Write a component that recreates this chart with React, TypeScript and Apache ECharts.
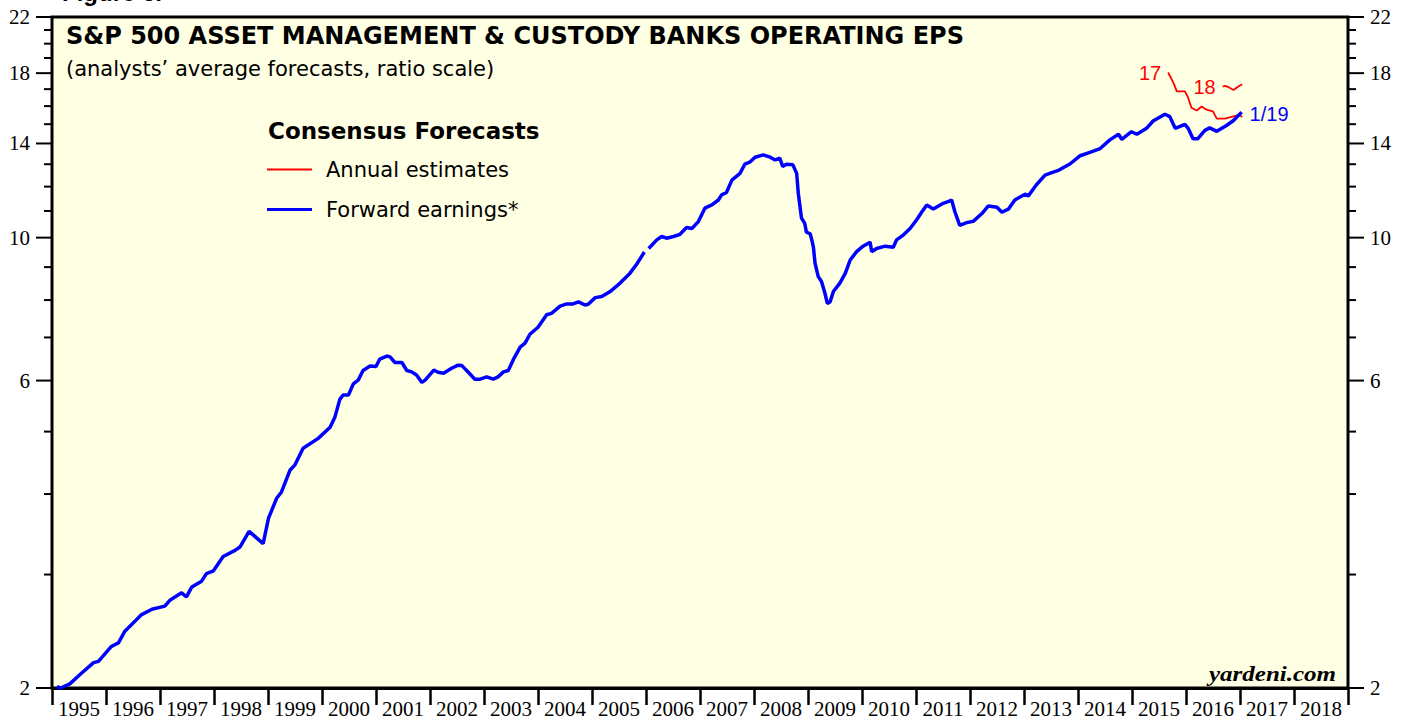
import React, { useEffect, useRef } from 'react';
import * as echarts from 'echarts';

// ---- Data ----
const yearLabels = ['1995','1996','1997','1998','1999','2000','2001','2002','2003','2004','2005','2006','2007','2008','2009','2010','2011','2012','2013','2014','2015','2016','2017','2018'];
const yTickValues = [2,3,4,5,6,7,8,9,10,11,12,13,14,15,16,17,18,19,20,21,22];
const yLabelValues = [2,6,10,14,18,22];

// Forward earnings (decimal year, EPS); null marks the break in early 2006
const fwdYears = [1995.09,1995.16,1995.33,1995.55,1995.77,1995.86,1996.1,1996.23,1996.35,1996.66,1996.85,1997.09,1997.19,1997.4,1997.49,1997.59,1997.77,1997.86,1997.99,1998.17,1998.39,1998.48,1998.65,1998.91,1999.01,1999.16,1999.25,1999.41,1999.5,1999.65,1999.93,2000.15,2000.24,2000.33,2000.39,2000.49,2000.58,2000.67,2000.76,2000.89,2001.0,2001.07,2001.2,2001.26,2001.35,2001.48,2001.57,2001.66,2001.75,2001.85,2001.91,2002.07,2002.15,2002.25,2002.4,2002.52,2002.59,2002.71,2002.83,2002.93,2003.05,2003.17,2003.26,2003.36,2003.45,2003.54,2003.67,2003.76,2003.85,2004.0,2004.16,2004.25,2004.41,2004.53,2004.65,2004.75,2004.87,2004.93,2005.06,2005.18,2005.33,2005.52,2005.7,2005.83,2005.97,2006.01,2006.05,2006.2,2006.29,2006.38,2006.51,2006.63,2006.75,2006.85,2006.97,2007.09,2007.22,2007.34,2007.4,2007.49,2007.59,2007.68,2007.74,2007.83,2007.93,2008.02,2008.17,2008.3,2008.39,2008.48,2008.53,2008.6,2008.72,2008.79,2008.82,2008.88,2008.94,2008.97,2009.04,2009.07,2009.1,2009.13,2009.19,2009.25,2009.31,2009.36,2009.41,2009.47,2009.59,2009.69,2009.78,2009.9,2010.02,2010.15,2010.18,2010.27,2010.43,2010.58,2010.64,2010.77,2010.89,2011.01,2011.11,2011.2,2011.32,2011.48,2011.63,2011.66,2011.72,2011.81,2011.94,2012.06,2012.22,2012.34,2012.5,2012.59,2012.71,2012.83,2013.02,2013.08,2013.23,2013.39,2013.54,2013.64,2013.85,2014.04,2014.22,2014.41,2014.59,2014.75,2014.81,2014.99,2015.09,2015.27,2015.39,2015.61,2015.7,2015.8,2015.98,2016.04,2016.13,2016.22,2016.35,2016.44,2016.57,2016.75,2016.88,2017.03];
const fwdEps = [2.01,2.0,2.03,2.11,2.19,2.2,2.32,2.35,2.45,2.6,2.65,2.68,2.74,2.81,2.77,2.87,2.93,3.01,3.04,3.2,3.27,3.31,3.5,3.35,3.67,3.94,4.03,4.36,4.44,4.71,4.88,5.08,5.27,5.61,5.7,5.7,5.93,6.01,6.22,6.32,6.31,6.48,6.55,6.53,6.4,6.4,6.22,6.19,6.12,5.96,6.01,6.23,6.18,6.16,6.27,6.34,6.33,6.18,6.03,6.03,6.08,6.03,6.08,6.19,6.22,6.46,6.76,6.86,7.08,7.26,7.59,7.63,7.83,7.89,7.89,7.95,7.86,7.88,8.07,8.1,8.24,8.5,8.8,9.1,9.5,null,9.62,9.92,10.04,9.98,10.04,10.12,10.37,10.33,10.59,11.11,11.24,11.44,11.65,11.75,12.28,12.46,12.58,13.0,13.11,13.33,13.44,13.33,13.2,13.28,12.9,13.0,12.97,12.58,11.72,10.72,10.52,10.2,10.14,9.92,9.67,9.13,8.7,8.55,8.22,7.9,7.95,8.25,8.5,8.8,9.23,9.51,9.7,9.84,9.51,9.62,9.7,9.66,9.92,10.1,10.33,10.65,10.97,11.24,11.08,11.28,11.4,11.44,10.97,10.45,10.55,10.6,10.9,11.2,11.15,10.95,11.07,11.44,11.68,11.61,12.08,12.5,12.64,12.72,13.01,13.4,13.56,13.75,14.18,14.47,14.21,14.6,14.47,14.78,15.17,15.54,15.41,14.78,14.99,14.78,14.24,14.24,14.67,14.8,14.62,14.93,15.2,15.66];

// Annual estimates for 2017 and 2018
const est17Years = [2015.67,2015.77,2015.83,2015.98,2016.04,2016.1,2016.2,2016.29,2016.38,2016.5,2016.57,2016.72,2016.88,2016.99,2017.04];
const est17Eps = [18.04,17.37,16.87,16.87,16.49,15.91,15.75,15.98,15.8,15.7,15.3,15.3,15.43,15.5,15.38];
const est18Years = [2016.68,2016.72,2016.79,2016.88,2016.97,2017.04];
const est18Eps = [17.16,17.2,17.12,16.95,17.16,17.3];

const pairs = (xs: number[], ys: (number | null)[]) => xs.map((x, i) => [x, ys[i] === null ? '-' : ys[i]]);

const SERIF = '"Liberation Serif", "Times New Roman", serif';
const SANS = '"DejaVu Sans", sans-serif';
const ARIAL = '"Liberation Sans", Arial, sans-serif';

export default function App() {
  const ref = useRef<HTMLDivElement>(null);
  useEffect(() => {
    if (!ref.current) return;
    const chart = echarts.init(ref.current, null, { renderer: 'svg' });
    const fwd = pairs(fwdYears, fwdEps);
    const e17 = pairs(est17Years, est17Eps);
    const e18 = pairs(est18Years, est18Eps);
    const lastFwd = fwd[fwd.length - 1];

    const option: any = {
      animation: false,
      backgroundColor: '#ffffff',
      title: {
        text: 'S&P 500 ASSET MANAGEMENT & CUSTODY BANKS OPERATING EPS',
        subtext: '(analysts\u2019 average forecasts, ratio scale)',
        left: 66,
        top: 24,
        padding: 0,
        itemGap: 10,
        textStyle: { fontFamily: SANS, fontWeight: 'bold', fontSize: 24, color: '#000' },
        subtextStyle: { fontFamily: SANS, fontSize: 21, color: '#000' },
      },
      legend: {
        orient: 'vertical',
        left: 267,
        top: 159,
        itemWidth: 45,
        itemHeight: 3,
        itemGap: 19,
        padding: 0,
        selectedMode: false,
        textStyle: { fontFamily: SANS, fontSize: 21, color: '#000', padding: [0, 0, 0, 9] },
        data: [
          { name: 'Annual estimates', icon: 'path://M0 0H45V2H0Z' },
          { name: 'Forward earnings*', icon: 'rect' },
        ],
      },
      grid: {
        left: 52,
        top: 17,
        right: 59,
        bottom: 31,
        show: true,
        backgroundColor: '#ffffe4',
        borderColor: '#000',
        borderWidth: 3,
        containLabel: false,
      },
      xAxis: [
        { type: 'value', min: 1995, max: 2019, show: false },
        {
          type: 'category',
          data: yearLabels,
          boundaryGap: true,
          position: 'bottom',
          axisLine: { show: true, lineStyle: { color: '#000', width: 3 } },
          axisTick: { show: true, interval: 0, length: 17, lineStyle: { color: '#000', width: 2.5 } },
          axisLabel: { interval: 0, fontFamily: SERIF, fontSize: 21, color: '#000', margin: 10 },
          splitLine: { show: false },
        },
      ],
      yAxis: {
        type: 'log',
        logBase: 10,
        min: 2,
        max: 22,
        axisLine: { show: false },
        axisTick: { show: false },
        axisLabel: { show: false },
        splitLine: { show: false },
      },
      graphic: [
        {
          type: 'text', left: 268, top: 119,
          style: { text: 'Consensus Forecasts', font: 'bold 23px ' + SANS, fill: '#000' },
        },
        {
          type: 'text', x: 1336, y: 674, scaleX: 1.25,
          style: { text: 'yardeni.com', font: 'italic bold 20px ' + SERIF, fill: '#000', align: 'right', verticalAlign: 'middle' },
        },
        {
          type: 'text', x: 62, y: 4,
          style: { text: 'Figure 6.', font: 'bold 24px ' + ARIAL, fill: '#000', align: 'left', verticalAlign: 'bottom' },
        },
      ],
      series: [
        {
          name: 'Forward earnings*',
          type: 'line',
          xAxisIndex: 0,
          yAxisIndex: 0,
          data: fwd,
          symbol: 'none',
          connectNulls: false,
          color: '#0000ff',
          lineStyle: { color: '#0000ff', width: 3.5 },
          z: 4,
          markPoint: {
            symbol: 'circle', symbolSize: 0, silent: true,
            data: [{ coord: lastFwd, label: { show: true, formatter: '1/19', position: 'right', distance: 8, offset: [0, 2], color: '#0000ff', fontFamily: ARIAL, fontSize: 20 } }],
          },
        },
        {
          name: 'Annual estimates',
          type: 'line',
          xAxisIndex: 0,
          yAxisIndex: 0,
          data: e17,
          symbol: 'none',
          color: '#ff0000',
          lineStyle: { color: '#ff0000', width: 1.8 },
          z: 3,
          markPoint: {
            symbol: 'circle', symbolSize: 0, silent: true,
            data: [{ coord: e17[0], label: { show: true, formatter: '17', position: 'left', distance: 7, color: '#ff0000', fontFamily: ARIAL, fontSize: 20 } }],
          },
        },
        {
          name: 'Annual estimates',
          type: 'line',
          xAxisIndex: 0,
          yAxisIndex: 0,
          data: e18,
          symbol: 'none',
          color: '#ff0000',
          lineStyle: { color: '#ff0000', width: 1.8 },
          z: 3,
          markPoint: {
            symbol: 'circle', symbolSize: 0, silent: true,
            data: [{ coord: e18[0], label: { show: true, formatter: '18', position: 'left', distance: 7, color: '#ff0000', fontFamily: ARIAL, fontSize: 20 } }],
          },
        },
        {
          name: 'yTicks',
          type: 'custom',
          xAxisIndex: 0,
          yAxisIndex: 0,
          clip: false,
          silent: true,
          z: 10,
          data: yTickValues.map((v) => [1995, v]),
          renderItem: (params: any, api: any) => {
            const v = api.value(1);
            const y = api.coord([1995, v])[1];
            const cs = params.coordSys;
            const left = cs.x;
            const right = cs.x + cs.width;
            const major = yLabelValues.indexOf(v) >= 0;
            const len = major ? 16 : 8;
            const lineStyle = { stroke: '#000', lineWidth: 2 };
            const children: any[] = [
              { type: 'line', shape: { x1: left - len, y1: y, x2: left, y2: y }, style: lineStyle },
              { type: 'line', shape: { x1: right, y1: y, x2: right + len, y2: y }, style: lineStyle },
            ];
            if (major) {
              children.push({ type: 'text', style: { text: String(v), x: left - 22, y, align: 'right', verticalAlign: 'middle', font: '21px ' + SERIF, fill: '#000' } });
              children.push({ type: 'text', style: { text: String(v), x: right + 22, y, align: 'left', verticalAlign: 'middle', font: '21px ' + SERIF, fill: '#000' } });
            }
            return { type: 'group', children };
          },
        },
      ],
    };
    chart.setOption(option);
    return () => chart.dispose();
  }, []);
  return <div ref={ref} style={{ position: 'absolute', left: 0, top: 0, width: 1407, height: 719 }} />;
}
